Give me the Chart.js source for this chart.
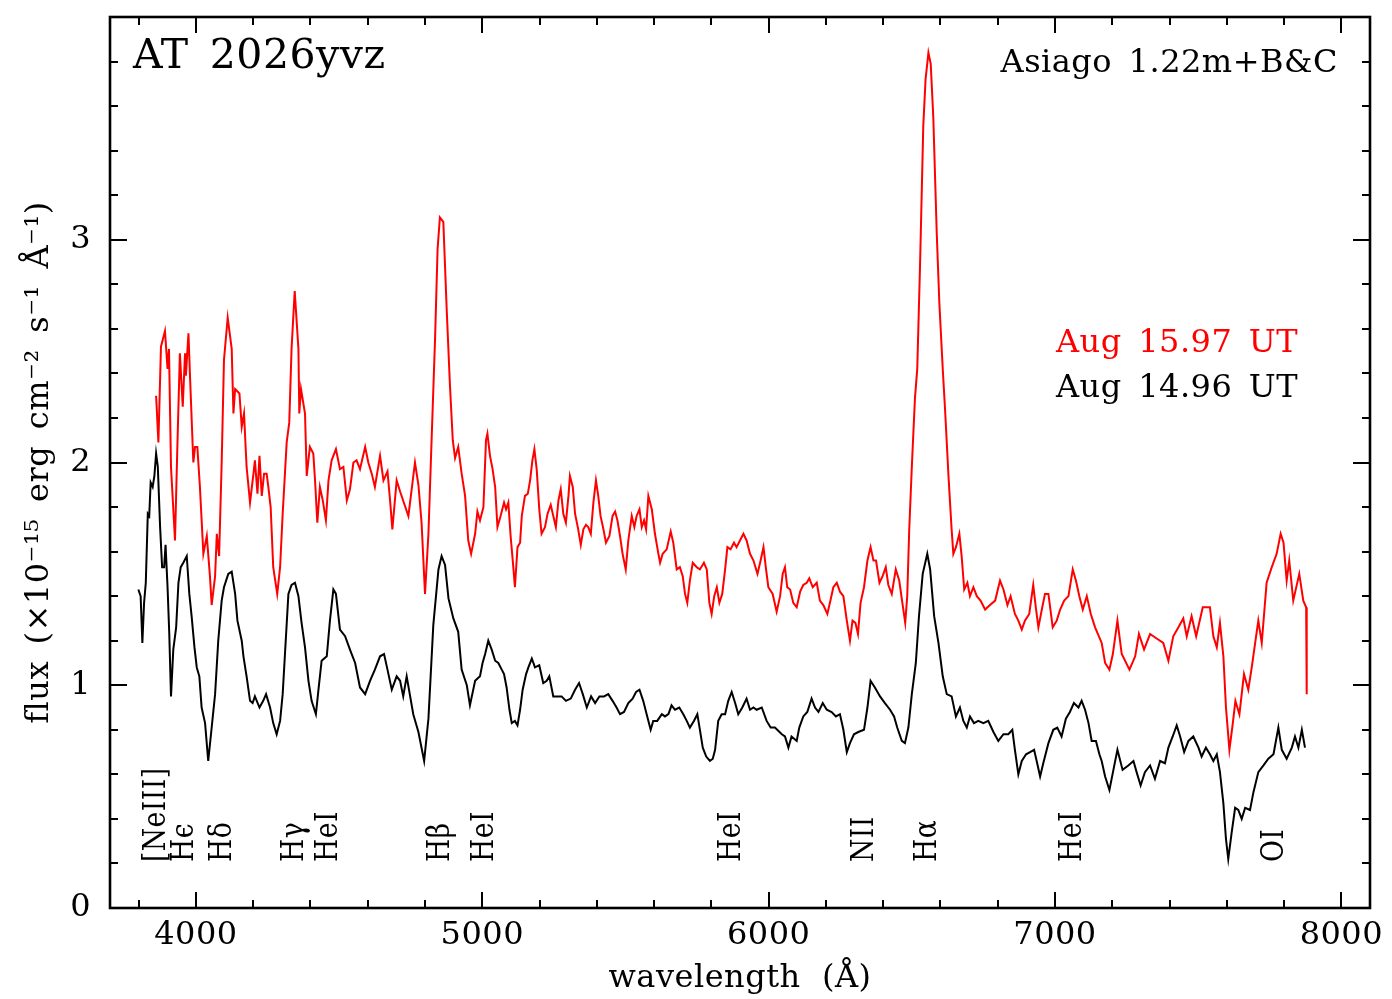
<!DOCTYPE html>
<html><head><meta charset="utf-8">
<script src="https://cdn.jsdelivr.net/npm/chart.js@4.4.1/dist/chart.umd.min.js"></script>
<style>html,body{margin:0;padding:0;background:#fff;}canvas{display:block;}</style>
</head><body>
<canvas id="c" width="1392" height="999" style="width:1392px;height:999px"></canvas>
<script>
// ---- data ----
const redWave = [
3861,3869,3878,3892,3901,3906,3913,3927,3935,3944,
3954,3962,3965,3974,3979,3991,3997,4005,4014,4026,
4038,4049,4055,4067,4073,4081,4090,4098,4111,4125,
4131,4137,4152,4160,4168,4177,4189,4201,4206,4215,
4222,4230,4238,4247,4253,4261,4270,4284,4294,4303,
4317,4326,4334,4345,4358,4361,4367,4381,4387,4398,
4410,4416,4424,4433,4443,4454,4463,4474,4489,4503,
4515,4527,4538,4550,4561,4573,4591,4602,4614,4625,
4643,4655,4669,4678,4686,4701,4713,4742,4765,4777,
4788,4800,4812,4823,4835,4844,4852,4864,4876,4887,
4897,4905,4916,4928,4940,4951,4961,4975,4983,
4992,5004,5013,5018,5027,5036,5045,5053,5064,5076,
5083,5091,5099,5109,5114,5123,5132,5138,5149,5159,
5167,5175,5182,5190,5199,5207,5219,5228,5239,5248,
5257,5266,5274,5283,5292,5301,5306,5316,5324,5335,
5344,5353,5362,5370,5379,5388,5397,5405,5413,5423,
5432,5444,5455,5464,5472,5481,5490,5501,5510,5522,
5531,5539,5549,5557,5565,5572,5580,5592,5603,5615,
5621,5630,5644,5658,5667,5679,5690,5700,5708,5716,
5725,5735,5749,5760,5774,5784,5793,5801,5810,5819,
5828,5838,5848,5856,5867,5879,5888,5900,5912,5923,
5935,5947,5961,5972,5982,5991,5999,6014,6028,6040,
6049,6057,6065,6075,6086,6098,6110,6121,6133,6142,
6154,6168,6179,6191,6205,6214,6226,6238,6249,6261,
6273,6284,6293,6303,6312,6321,6333,6345,6356,6366,
6375,6387,6398,6409,6418,6430,6444,6456,6467,6477,
6484,6491,6500,6511,6519,6529,6540,6548,6558,6566,
6575,6587,6596,6608,6616,6628,6639,6645,6654,6666,
6674,6683,6694,6703,6715,6727,6740,6756,6773,6791,
6808,6820,6834,6845,6860,6872,6884,6895,6910,6924,
6933,6942,6954,6965,6977,6992,7006,7018,7032,7047,
7062,7073,7085,7097,7111,7125,7140,
7163,7175,7190,7202,7218,7233,7260,7280,7293,7311,
7332,7355,7378,7396,7413,7431,7448,7460,7477,7493,
7516,7541,7553,7565,7576,7588,7597,7609,7621,7630,
7644,7660,7675,7687,7699,7710,7722,7739,7757,7774,
7788,7798,7809,7818,7832,7853,7867,7877,7879];
const redFlux = [
2.30,2.09,2.52,2.59,2.42,2.51,1.98,1.65,2.06,2.49,
2.25,2.49,2.39,2.58,2.40,2.00,2.07,2.07,1.89,1.59,
1.67,1.49,1.36,1.49,1.68,1.58,2.00,2.46,2.65,2.51,
2.22,2.33,2.31,2.16,2.22,1.98,1.82,1.95,2.01,1.86,
2.03,1.85,1.95,1.95,1.89,1.80,1.53,1.41,1.53,1.77,
2.09,2.18,2.51,2.77,2.51,2.22,2.33,2.22,1.94,2.07,
2.04,1.92,1.73,1.89,1.83,1.74,1.92,2.01,2.06,1.97,
1.98,1.83,1.88,2.00,2.01,1.97,2.07,2.00,1.95,1.89,
2.03,1.92,1.96,1.83,1.70,1.92,1.87,1.76,2.00,1.90,
1.73,1.41,1.68,2.10,2.55,2.96,3.10,3.08,2.68,2.35,
2.10,2.02,2.07,1.95,1.85,1.65,1.59,1.68,1.78,
1.74,1.80,2.10,2.13,2.03,1.97,1.89,1.71,1.76,1.82,
1.79,1.82,1.67,1.52,1.44,1.62,1.64,1.76,1.85,1.86,
1.92,2.01,2.06,1.97,1.79,1.68,1.71,1.77,1.81,1.76,
1.71,1.83,1.88,1.77,1.73,1.85,1.94,1.89,1.77,1.70,
1.63,1.70,1.72,1.71,1.68,1.82,1.92,1.85,1.76,1.70,
1.64,1.67,1.76,1.78,1.74,1.67,1.59,1.52,1.65,1.76,
1.71,1.76,1.79,1.71,1.74,1.70,1.85,1.79,1.68,1.59,
1.55,1.59,1.61,1.69,1.64,1.52,1.53,1.49,1.41,1.37,
1.47,1.55,1.53,1.52,1.55,1.52,1.37,1.32,1.40,1.44,
1.37,1.41,1.52,1.62,1.61,1.64,1.62,1.65,1.68,1.65,
1.59,1.56,1.50,1.56,1.62,1.52,1.44,1.41,1.33,1.40,
1.50,1.53,1.44,1.43,1.37,1.35,1.42,1.45,1.46,1.48,
1.44,1.46,1.38,1.36,1.32,1.37,1.44,1.46,1.42,1.40,
1.29,1.20,1.29,1.28,1.23,1.37,1.44,1.56,1.62,1.56,
1.56,1.46,1.49,1.53,1.45,1.41,1.52,1.47,1.37,1.28,
1.40,1.70,1.98,2.29,2.42,2.90,3.51,3.72,3.84,3.79,
3.55,3.03,2.72,2.42,2.24,1.94,1.70,1.59,1.62,1.68,
1.58,1.43,1.46,1.40,1.44,1.40,1.38,1.34,1.36,1.38,
1.47,1.43,1.36,1.40,1.32,1.29,1.25,1.29,1.32,1.45,
1.35,1.26,1.34,1.41,1.41,1.26,1.29,1.34,1.38,1.40,
1.52,1.47,1.40,1.34,1.40,1.32,1.26,
1.19,1.10,1.07,1.14,1.29,1.14,1.07,1.13,1.23,1.16,
1.23,1.21,1.19,1.11,1.22,1.26,1.30,1.22,1.31,1.22,
1.35,1.35,1.22,1.17,1.28,1.13,0.90,0.71,0.83,0.93,
0.87,1.05,0.98,1.08,1.19,1.29,1.19,1.46,1.53,1.59,
1.68,1.64,1.47,1.56,1.38,1.50,1.38,1.35,0.96];

const blackWave = [
3799,3807,3813,3819,3825,3832,3837,3842,3849,3855,
3861,3867,3875,3882,3889,3894,3901,3907,3913,3921,
3931,3939,3947,3956,3968,3977,3985,3995,4003,4012,
4020,4032,4043,4055,4067,4078,4090,4098,4113,4125,
4137,4145,4160,4166,4177,4189,4198,4206,4222,4235,
4245,4259,4270,4282,4294,4303,4311,4323,4334,4346,
4358,4369,4381,4393,4404,4419,4428,4439,4457,4468,
4480,4489,4503,4521,4538,4556,4573,4591,4608,4625,
4643,4657,4669,4684,4701,4713,4724,4736,4759,4777,
4797,4812,4829,4847,4858,4870,4882,4899,4916,4928,
4946,4957,4975,
4992,5001,5010,5021,5033,5045,5056,5068,5076,5085,
5095,5103,5114,5123,5132,5141,5153,5161,5173,5184,
5199,5213,5225,5234,5248,5262,5277,5292,5309,5324,
5338,5351,5365,5380,5394,5409,5425,5440,5455,5469,
5481,5495,5510,5525,5537,5549,5562,5574,5588,5597,
5611,5627,5638,5650,5661,5673,5688,5702,5714,5725,
5739,5751,5760,5770,5782,5795,5805,5813,5824,5836,
5848,5859,5871,5883,5894,5908,5923,5935,5947,5958,
5976,5993,6007,6022,
6030,6046,6057,6069,6080,6098,6107,6121,6135,6150,
6162,6174,6189,6203,6220,6235,6249,6261,6273,6284,
6298,6313,6333,6345,6356,6371,6389,6406,6424,6438,
6449,6465,6476,6488,6500,6514,6525,6538,6554,6564,
6578,6593,6608,6622,6639,6654,6668,6680,6692,6703,
6717,6732,6750,6767,6785,6802,6820,6837,6851,6860,
6872,6884,6899,6913,6927,6936,6948,6959,6977,6994,
7008,7023,7038,7052,7066,7082,7093,7105,7117,7128,
7143,7155,
7163,7175,7190,7204,7218,7236,7256,7274,7285,7299,
7314,7332,7349,7367,7384,7396,7411,7425,7437,7451,
7466,7483,7501,7512,7527,7541,7553,7565,7576,7588,
7597,7605,7617,7629,7640,7652,7664,7681,7693,7710,
7728,7745,7763,7780,7792,7809,7827,7838,7850,7862,
7873];
const blackFlux = [
1.43,1.40,1.19,1.37,1.46,1.77,1.76,1.91,1.89,1.94,
2.04,1.98,1.71,1.53,1.53,1.63,1.44,1.23,0.95,1.16,
1.26,1.46,1.53,1.55,1.58,1.41,1.31,1.17,1.08,1.04,
0.90,0.83,0.66,0.81,0.96,1.20,1.38,1.44,1.50,1.51,
1.41,1.29,1.20,1.13,1.04,0.93,0.92,0.95,0.90,0.93,
0.96,0.90,0.83,0.78,0.84,0.96,1.14,1.41,1.45,1.46,
1.40,1.28,1.17,1.02,0.93,0.87,0.98,1.11,1.13,1.29,
1.43,1.41,1.25,1.22,1.16,1.10,0.99,0.96,1.02,1.07,
1.13,1.14,1.07,0.98,1.04,1.02,0.95,1.04,0.87,0.79,
0.66,0.85,1.27,1.52,1.58,1.54,1.39,1.30,1.24,1.07,
1.00,0.91,1.02,
1.04,1.10,1.14,1.20,1.16,1.11,1.10,1.07,1.05,0.99,
0.89,0.83,0.84,0.82,0.89,0.98,1.05,1.08,1.12,1.08,
1.09,1.01,1.02,1.04,0.95,0.95,0.95,0.93,0.94,0.98,
1.01,0.96,0.90,0.95,0.92,0.95,0.95,0.96,0.93,0.90,
0.87,0.88,0.92,0.94,0.97,0.98,0.93,0.87,0.80,0.84,
0.84,0.87,0.86,0.87,0.91,0.89,0.90,0.87,0.84,0.81,
0.84,0.87,0.80,0.72,0.68,0.66,0.67,0.71,0.84,0.87,
0.87,0.93,0.97,0.92,0.87,0.90,0.94,0.89,0.90,0.89,
0.90,0.84,0.81,0.81,
0.80,0.78,0.77,0.72,0.77,0.75,0.81,0.86,0.88,0.94,
0.90,0.88,0.92,0.89,0.88,0.86,0.87,0.80,0.70,0.74,
0.78,0.79,0.80,0.90,1.02,0.99,0.95,0.92,0.89,0.86,
0.81,0.75,0.74,0.81,0.96,1.10,1.31,1.50,1.59,1.52,
1.31,1.19,1.04,0.96,0.95,0.86,0.90,0.84,0.81,0.86,
0.83,0.84,0.83,0.84,0.79,0.75,0.78,0.78,0.80,0.71,
0.60,0.66,0.69,0.70,0.71,0.66,0.59,0.65,0.74,0.80,
0.81,0.77,0.85,0.88,0.92,0.90,0.93,0.89,0.83,0.75,
0.75,0.69,
0.66,0.59,0.53,0.62,0.71,0.62,0.64,0.66,0.61,0.55,
0.61,0.64,0.58,0.66,0.65,0.72,0.77,0.82,0.77,0.70,
0.75,0.77,0.72,0.68,0.72,0.69,0.66,0.69,0.61,0.47,
0.31,0.22,0.34,0.45,0.44,0.40,0.45,0.44,0.52,0.61,
0.64,0.67,0.69,0.81,0.71,0.67,0.72,0.77,0.72,0.80,
0.72];

const xTickValues = [4000, 5000, 6000, 7000, 8000];
const yTickValues = [0, 1, 2, 3];
const lineNames = ['[NeIII]', 'H\u03F5', 'H\u03B4', 'H\u03B3', 'HeI', 'H\u03B2', 'HeI', 'HeI', 'NII', 'H\u03B1', 'HeI', 'OI'];
const lineWaves = [3864, 3962, 4095, 4346, 4465, 4856, 5009, 5871, 6337, 6555, 7061, 7768];
const seriesLabels = ['Aug\u200215.97\u2002UT', 'Aug\u200214.96\u2002UT'];
const objectName = 'AT\u20022026yvz';
const instrument = 'Asiago\u20021.22m+B&C';
const xTitle = 'wavelength  (\u00C5)';
const yTitle = 'flux\u2002(\u00D710\u207B\u00B9\u2075\u2002erg\u2002cm\u207B\u00B2\u2002s\u207B\u00B9\u2002\u00C5\u207B\u00B9)';

// ---- chart ----
const FONT = "'DejaVu Serif', 'Liberation Serif', serif";
const toPts = (w, f) => w.map((v, i) => ({x: v, y: f[i]}));

const decor = {
  id: 'decor',
  beforeDraw(chart) { chart.ctx.letterSpacing = '0.5px'; },
  afterDraw(chart) {
    const {ctx, chartArea: a, scales: {x, y}} = chart;
    ctx.save();
    ctx.letterSpacing = '0.5px';
    ctx.strokeStyle = '#000';
    ctx.lineWidth = 2;
    ctx.beginPath();
    for (let v = 3800; v <= 8000; v += 200) {
      const px = Math.round(x.getPixelForValue(v));
      const len = (v % 1000 === 0) ? 16 : 8;
      ctx.moveTo(px, a.bottom); ctx.lineTo(px, a.bottom - len);
      ctx.moveTo(px, a.top); ctx.lineTo(px, a.top + len);
    }
    for (let i = 1; i < 20; i++) {
      const py = Math.round(y.getPixelForValue(i * 0.2));
      const len = (i % 5 === 0) ? 17 : 8;
      ctx.moveTo(a.left, py); ctx.lineTo(a.left + len, py);
      ctx.moveTo(a.right, py); ctx.lineTo(a.right - len, py);
    }
    ctx.stroke();
    ctx.lineWidth = 2.6;
    ctx.strokeRect(a.left, a.top, a.right - a.left, a.bottom - a.top);

    ctx.fillStyle = '#000';
    ctx.textBaseline = 'alphabetic';
    ctx.textAlign = 'left';
    ctx.font = '41px ' + FONT;
    ctx.fillText(objectName, a.left + 23, a.top + 51);
    ctx.font = '32px ' + FONT;
    ctx.textAlign = 'right';
    ctx.fillText(instrument, a.right - 32, a.top + 55);
    ctx.textAlign = 'left';
    ctx.fillStyle = '#ff0000';
    ctx.fillText(seriesLabels[0], 1056, 352);
    ctx.fillStyle = '#000';
    ctx.fillText(seriesLabels[1], 1056, 397);

    ctx.font = '31px ' + FONT;
    lineNames.forEach((n, i) => {
      const px = x.getPixelForValue(lineWaves[i]);
      ctx.save();
      ctx.translate(px, 862);
      ctx.rotate(-Math.PI / 2);
      ctx.scale(0.86, 1);
      ctx.textAlign = 'left';
      ctx.textBaseline = 'middle';
      ctx.fillText(n, 0, 0);
      ctx.restore();
    });
    ctx.restore();
  }
};

new Chart(document.getElementById('c'), {
  type: 'scatter',
  data: {
    datasets: [
      {label: seriesLabels[1], data: toPts(blackWave, blackFlux), showLine: true, borderColor: '#000', borderWidth: 2, pointRadius: 0, tension: 0},
      {label: seriesLabels[0], data: toPts(redWave, redFlux), showLine: true, borderColor: '#ff0000', borderWidth: 2, pointRadius: 0, tension: 0}
    ]
  },
  options: {
    responsive: false,
    animation: false,
    events: [],
    layout: {padding: {top: 17, right: 22, left: 0, bottom: 0}},
    plugins: {legend: {display: false}, tooltip: {enabled: false}},
    scales: {
      x: {
        type: 'linear', min: 3700, max: 8100,
        grid: {display: false, drawTicks: false},
        border: {display: false},
        ticks: {font: {family: FONT, size: 32}, color: '#000', padding: 8, maxRotation: 0, autoSkip: false, callback: v => String(v)},
        afterBuildTicks: s => { s.ticks = xTickValues.map(v => ({value: v})); },
        afterFit: s => { s.height = 91; s.paddingLeft = 0; s.paddingRight = 0; },
        title: {display: true, text: xTitle, font: {family: FONT, size: 32}, color: '#000', padding: {top: 0, bottom: 1}}
      },
      y: {
        type: 'linear', min: 0, max: 4,
        grid: {display: false, drawTicks: false},
        border: {display: false},
        ticks: {font: {family: FONT, size: 32}, color: '#000', padding: 19, autoSkip: false, callback: v => String(v)},
        afterBuildTicks: s => { s.ticks = yTickValues.map(v => ({value: v})); },
        afterFit: s => { s.width = 110; s.paddingTop = 0; s.paddingBottom = 0; },
        title: {display: true, text: yTitle, font: {family: FONT, size: 32}, color: '#000', padding: {top: 20, bottom: 0}}
      }
    }
  },
  plugins: [decor]
});
</script>
</body></html>
